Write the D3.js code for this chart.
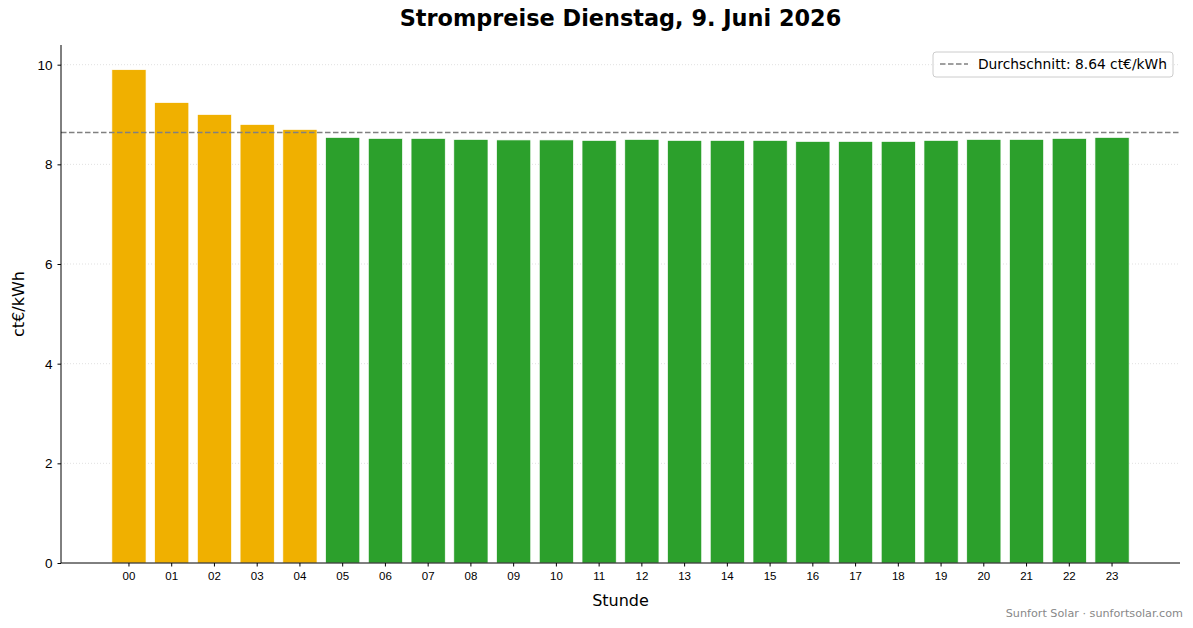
<!DOCTYPE html>
<html>
<head>
<meta charset="utf-8">
<script src="https://cdn.jsdelivr.net/npm/d3@7"></script>
<style>
  body { margin: 0; background: #fff; }
  svg { font-family: "DejaVu Sans", sans-serif; }
</style>
</head>
<body>
<script>
// hourly prices
var hours = ["00","01","02","03","04","05","06","07","08","09","10","11",
             "12","13","14","15","16","17","18","19","20","21","22","23"];
var prices = [9.90, 9.24, 9.00, 8.80, 8.70, 8.54, 8.52, 8.52, 8.50, 8.49, 8.49, 8.48,
              8.50, 8.48, 8.48, 8.48, 8.46, 8.46, 8.46, 8.48, 8.50, 8.50, 8.52, 8.54];
var average = 8.64;
var yTicks = [0, 2, 4, 6, 8, 10];

var W = 1193, H = 628;
var margin = {left: 61, right: 13, top: 45, bottom: 65},
    width = W - margin.left - margin.right,
    height = H - margin.top - margin.bottom;

var svg = d3.select("body").append("svg")
    .attr("width", W)
    .attr("height", H);

var g = svg.append("g")
    .attr("transform", "translate(" + margin.left + "," + margin.top + ")");

var x = d3.scaleBand()
    .domain(hours)
    .range([0, width])
    .paddingInner(0.2)
    .paddingOuter(1.19);

var y = d3.scaleLinear()
    .domain([0, d3.max(prices) * 1.05])
    .range([height, 0]);

// grid
g.selectAll("line.grid")
    .data(yTicks.filter(function(d) { return d > 0; }))
    .enter().append("line")
    .attr("class", "grid")
    .attr("x1", 0).attr("x2", width)
    .attr("y1", function(d) { return y(d); })
    .attr("y2", function(d) { return y(d); })
    .attr("stroke", "#d9d9d9")
    .attr("stroke-width", 0.8)
    .attr("stroke-dasharray", "1,2");

// bars
g.selectAll("rect.bar")
    .data(prices)
    .enter().append("rect")
    .attr("class", "bar")
    .attr("x", function(d, i) { return x(hours[i]); })
    .attr("width", x.bandwidth())
    .attr("y", function(d) { return y(d); })
    .attr("height", function(d) { return y(0) - y(d); })
    .attr("fill", function(d) { return d > average ? "#f0b000" : "#2ca02c"; })
    .attr("stroke", "#fff")
    .attr("stroke-width", 0.7);

// average line
g.append("line")
    .attr("x1", 0).attr("x2", width)
    .attr("y1", y(average)).attr("y2", y(average))
    .attr("stroke", "#808080")
    .attr("stroke-width", 1.5)
    .attr("stroke-dasharray", "5.5,2.5");

// axes
var yAxis = g.append("g")
    .call(d3.axisLeft(y).tickValues(yTicks).tickFormat(d3.format("d")).tickSize(3.5).tickPadding(5));
yAxis.select(".domain").attr("d", "M0," + height + "V0").attr("stroke", "#000").attr("stroke-width", 1);
yAxis.selectAll("text").attr("font-size", 13.5).attr("fill", "#000");

var xAxis = g.append("g")
    .attr("transform", "translate(0," + height + ")")
    .call(d3.axisBottom(x).tickSize(3.5).tickPadding(5));
xAxis.select(".domain").attr("d", "M0,0H" + width).attr("stroke", "#000");
xAxis.selectAll("text").attr("font-size", 11.5).attr("fill", "#000");
svg.selectAll(".tick line").attr("stroke", "#000");

// labels
svg.append("text")
    .attr("x", margin.left + width / 2)
    .attr("y", 26)
    .attr("text-anchor", "middle")
    .attr("font-size", 22.4)
    .attr("font-weight", "bold")
    .text("Strompreise Dienstag, 9. Juni 2026");

svg.append("text")
    .attr("x", margin.left + width / 2)
    .attr("y", 606)
    .attr("text-anchor", "middle")
    .attr("font-size", 16)
    .text("Stunde");

svg.append("text")
    .attr("transform", "translate(24," + (margin.top + height / 2) + ") rotate(-90)")
    .attr("text-anchor", "middle")
    .attr("font-size", 16)
    .text("ct€/kWh");

// legend
var lg = svg.append("g").attr("transform", "translate(933,52)");
lg.append("rect")
    .attr("width", 240).attr("height", 25).attr("rx", 3)
    .attr("fill", "#fff").attr("fill-opacity", 0.8)
    .attr("stroke", "#ccc");
lg.append("line")
    .attr("x1", 7).attr("x2", 35).attr("y1", 12).attr("y2", 12)
    .attr("stroke", "#808080").attr("stroke-width", 1.5)
    .attr("stroke-dasharray", "5.5,2.5");
lg.append("text")
    .attr("x", 45).attr("y", 17)
    .attr("font-size", 13.8)
    .text("Durchschnitt: " + average.toFixed(2) + " ct€/kWh");

// watermark
svg.append("text")
    .attr("x", 1183).attr("y", 617)
    .attr("text-anchor", "end")
    .attr("font-size", 11.2)
    .attr("fill", "#888")
    .text("Sunfort Solar · sunfortsolar.com");
</script>
</body>
</html>
